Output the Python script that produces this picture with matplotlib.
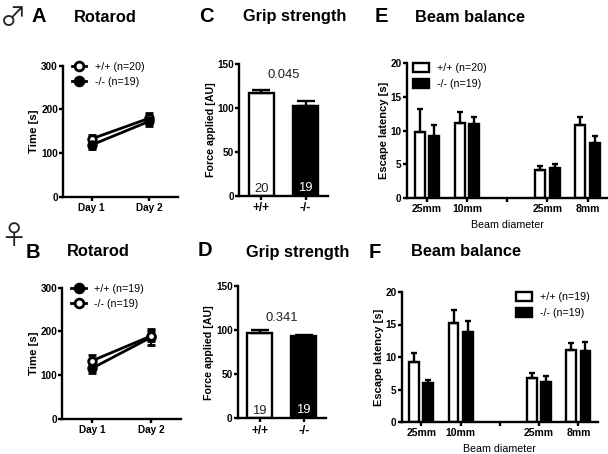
import matplotlib
matplotlib.use('Agg')
import matplotlib.pyplot as plt
import numpy as np

plt.rcParams['font.family'] = ['Liberation Sans', 'DejaVu Sans']

W, H = 608, 454

days = ['Day 1', 'Day 2']
rota_a_wt = [133, 180]
rota_a_wt_err = [9, 12]
rota_a_ko = [119, 173]
rota_a_ko_err = [10, 11]
rota_b_wt = [116, 187]
rota_b_wt_err = [11, 18]
rota_b_ko = [133, 190]
rota_b_ko_err = [14, 12]

geno = ['+/+', '-/-']
grip_c = [117, 102]
grip_c_err = [3, 6]
grip_c_n = ['20', '19']
grip_d = [97, 93]
grip_d_err = [3, 2]
grip_d_n = ['19', '19']

beam_labels = ['25mm', '10mm', '', '25mm', '8mm']
beam_pos = [0, 1, 3, 4]
beam_e_wt = [9.8, 11.2, 4.2, 10.8]
beam_e_wt_err = [3.4, 1.5, 0.6, 1.2]
beam_e_ko = [9.2, 11.0, 4.5, 8.2]
beam_e_ko_err = [1.7, 1.1, 0.5, 1.0]
beam_f_wt = [9.2, 15.2, 6.8, 11.1]
beam_f_wt_err = [1.4, 2.0, 0.7, 1.1]
beam_f_ko = [6.0, 13.9, 6.2, 10.9]
beam_f_ko_err = [0.4, 1.6, 0.9, 1.4]

LW = 1.7
fig = plt.figure(figsize=(W / 100, H / 100), dpi=100)


def make_ax(x0, x1, ytop, ybot):
    ax = fig.add_axes([x0 / W, 1 - ybot / H, (x1 - x0) / W, (ybot - ytop) / H])
    ax.patch.set_alpha(0)
    ax.spines['top'].set_visible(False)
    ax.spines['right'].set_visible(False)
    ax.spines['left'].set_linewidth(LW)
    ax.spines['bottom'].set_linewidth(LW)
    ax.tick_params(width=LW, length=3, labelsize=7.2)
    ax.tick_params(axis='y', pad=0.6)
    ax.tick_params(axis='x', pad=1.5)
    return ax


def bold_ticks(ax):
    for lab in ax.get_xticklabels() + ax.get_yticklabels():
        lab.set_fontweight('bold')


def rotarod(box, wt, wt_err, ko, ko_err, labels, white_first, legend_xy):
    ax = make_ax(*box)
    x = np.arange(2)
    opts = dict(color='k', lw=2.0, capsize=3.2, capthick=LW, elinewidth=LW, marker='o', ms=5.5,
                mec='k', mew=2, clip_on=False)
    s1 = ax.errorbar(x, wt, yerr=wt_err, mfc='white' if white_first else 'k', **opts)
    s2 = ax.errorbar(x, ko, yerr=ko_err, mfc='k' if white_first else 'white', **opts)
    ax.set_xlim(-0.5, 1.5)
    ax.set_ylim(0, 300)
    ax.set_yticks([0, 100, 200, 300])
    ax.set_xticks(x, days)
    ax.set_ylabel('Time [s]', fontsize=8.2, fontweight='bold', labelpad=1.2)
    bold_ticks(ax)
    ax.legend([s1[0], s2[0]], labels, loc='upper left', bbox_to_anchor=legend_xy,
              frameon=False, fontsize=7.7, handlelength=1.35, handletextpad=0.8, markerscale=1.15,
              labelspacing=0.45, borderpad=0, borderaxespad=0, numpoints=1)
    return ax


def grip(box, vals, errs, ns, ptext):
    ax = make_ax(*box)
    x = np.arange(2)
    ax.bar(x, vals, width=0.56, color=['white', 'k'], edgecolor='k', linewidth=LW,
           yerr=[[0, 0], errs], error_kw=dict(ecolor='k', elinewidth=LW, capsize=6.5, capthick=LW))
    ax.set_xlim(-0.5, 1.5)
    ax.set_ylim(0, 150)
    ax.set_yticks([0, 50, 100, 150])
    ax.set_xticks(x, geno)
    ax.tick_params(axis='x', labelsize=8.5)
    ax.set_ylabel('Force applied [AU]', fontsize=7.7, fontweight='bold', labelpad=1.2)
    bold_ticks(ax)
    ax.text(0.5, ptext[0], ptext[1], ha='center', va='center', fontsize=9.4, color='#222222')
    ax.text(0, 8, ns[0], ha='center', va='center', fontsize=9.4, color='#222222')
    ax.text(1, 9, ns[1], ha='center', va='center', fontsize=9.4, color='white')
    return ax


def beam(box, wt, wt_err, ko, ko_err, labels, legend_xy, xlab_pad):
    ax = make_ax(*box)
    pos = np.array(beam_pos)
    b1 = ax.bar(pos - 0.18, wt, width=0.25, color='white', edgecolor='k', linewidth=LW,
                yerr=[[0] * 4, wt_err], error_kw=dict(ecolor='k', elinewidth=LW, capsize=2.4, capthick=LW))
    b2 = ax.bar(pos + 0.18, ko, width=0.25, color='k', edgecolor='k', linewidth=LW,
                yerr=[[0] * 4, ko_err], error_kw=dict(ecolor='k', elinewidth=LW, capsize=2.4, capthick=LW))
    ax.set_xlim(-0.5, 4.5)
    ax.set_ylim(0, 20)
    ax.set_yticks([0, 5, 10, 15, 20])
    ax.set_xticks(range(5), beam_labels)
    ax.tick_params(axis='x', labelsize=7.5)
    ax.set_ylabel('Escape latency [s]', fontsize=8, fontweight='bold', labelpad=1.2)
    ax.set_xlabel('Beam diameter', fontsize=7.7, labelpad=xlab_pad)
    bold_ticks(ax)
    ax.legend([b1, b2], labels, loc='upper left', bbox_to_anchor=legend_xy, frameon=False,
              fontsize=7.7, handlelength=1.5, handleheight=0.9, handletextpad=0.75,
              labelspacing=0.55, borderpad=0, borderaxespad=0)
    return ax


rotarod((63, 178, 65.7, 197), rota_a_wt, rota_a_wt_err, rota_a_ko, rota_a_ko_err,
        ['+/+ (n=20)', '-/- (n=19)'], True, (0.075, 1.03))
rotarod((62.5, 181, 287.7, 419), rota_b_wt, rota_b_wt_err, rota_b_ko, rota_b_ko_err,
        ['+/+ (n=19)', '-/- (n=19)'], False, (0.075, 1.03))

grip((239.3, 327.6, 64, 196), grip_c, grip_c_err, grip_c_n, (137, '0.045'))
grip((237.7, 325.7, 286, 418.3), grip_d, grip_d_err, grip_d_n, (114, '0.341'))

beam((406.7, 607.7, 63.3, 198), beam_e_wt, beam_e_wt_err, beam_e_ko, beam_e_ko_err,
     ['+/+ (n=20)', '-/- (n=19)'], (0.03, 1.0), 4)
beam((401.7, 598, 292, 422), beam_f_wt, beam_f_wt_err, beam_f_ko, beam_f_ko_err,
     ['+/+ (n=19)', '-/- (n=19)'], (0.58, 1.0), 4.4)


def fig_text(x, y, s, **kw):
    fig.text(x / W, 1 - y / H, s, ha=kw.pop('ha', 'center'), va='center', **kw)


# panel letters and titles
for x, y, s in [(39, 17, 'A'), (33, 252, 'B'), (206, 16, 'C'), (205, 251, 'D'), (381, 17, 'E'), (375, 252, 'F')]:
    fig_text(x, y, s, fontsize=14.5, fontweight='bold')
for x, y, s in [(105, 18, 'Rotarod'), (98, 252, 'Rotarod'), (295, 16, 'Grip strength'), (298, 252, 'Grip strength'),
                (470, 18, 'Beam balance'), (466, 252, 'Beam balance')]:
    fig_text(x, y, s, fontsize=11.8, fontweight='bold')

fig_text(13.5, 18, '\u2642', fontsize=19, family='Noto Sans CJK JP', color='#222222')
fig_text(13.5, 237, '\u2640', fontsize=19, family='Noto Sans CJK JP', color='#222222')

fig.savefig('out.png', dpi=100)
